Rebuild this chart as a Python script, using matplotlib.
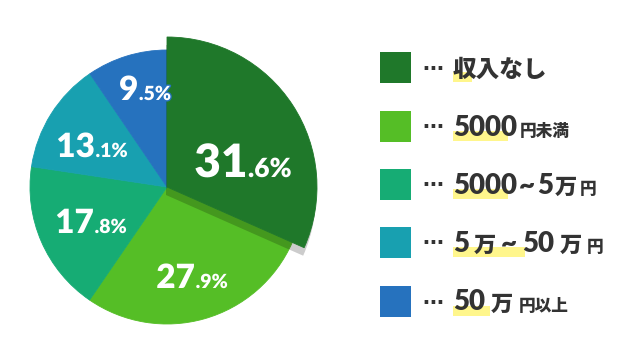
import re
import matplotlib
matplotlib.use('Agg')
import matplotlib.pyplot as plt
from matplotlib.patches import Wedge, Rectangle
import matplotlib.patheffects as pe

categories = ['収入なし', '5000円未満', '5000~5万円', '5万~50万円', '50万円以上']
values = [31.6, 27.9, 17.8, 13.1, 9.5]
colors = ['#1F782A', '#55BE26', '#16AC74', '#18A0B0', '#2672BE']

W, H = 640, 360
fig = plt.figure(figsize=(6.4, 3.6), dpi=100)
ax = fig.add_axes([0, 0, 1, 1])
ax.set_xlim(0, W)
ax.set_ylim(0, H)

cx, cy, R, R_big = 167, H - 187, 137, 150
wedges, _ = ax.pie(values, colors=colors, startangle=90, counterclock=False,
                   radius=R, center=(cx, cy), normalize=True,
                   wedgeprops=dict(linewidth=0.6))
for w in wedges:
    w.set_edgecolor(w.get_facecolor())
    w.set_zorder(1)
w0 = wedges[0]
w0.set_radius(R_big)
w0.set_zorder(2)
shadow = Wedge((cx - 1, cy - 8), R_big, w0.theta1, w0.theta2,
               facecolor='black', alpha=0.2, linewidth=0, zorder=1.5)
ax.add_patch(shadow)

ax.set_xlim(0, W)
ax.set_ylim(0, H)
ax.set_aspect('equal')
ax.axis('off')

renderer = fig.canvas.get_renderer()

NUM_FAM = ['Lato', 'Noto Sans CJK JP', 'DejaVu Sans']
CJK_FAM = ['Noto Sans CJK JP', 'DejaVu Sans']


def place(x, y, pieces, color, gap=1.0, center=False, effects=None, zorder=3):
    texts = []
    cur = x
    for s, size, fam, weight in pieces:
        t = ax.text(cur, y, s, fontsize=size, family=fam, fontweight=weight,
                    color=color, ha='left', va='baseline', zorder=zorder)
        if effects:
            t.set_path_effects(effects)
        bb = t.get_window_extent(renderer)
        cur = bb.x1 + gap
        texts.append(t)
    total = cur - gap - x
    if center:
        for t in texts:
            t.set_x(t.get_position()[0] - total / 2)
    return texts, total


# percentage labels: (center x, baseline y) in image px
label_pos = [(243, 177), (192, 288), (91, 233), (92, 157), (145, 100)]
big_sizes = [(33, 19), (24, 14), (24, 14), (24, 14), (24, 14)]
for v, (lx, ly), (s1, s2), c in zip(values, label_pos, big_sizes, colors):
    ip, fp = f'{v:.1f}'.split('.')
    pieces = [(ip, s1, NUM_FAM, 'heavy'), ('.' + fp + '%', s2, NUM_FAM, 'heavy')]
    place(lx, H - ly, pieces, 'white', gap=0.5, center=True,
          effects=[pe.Stroke(linewidth=2, foreground=c), pe.Normal()])


def tokenize(label):
    out = []
    i = 0
    while i < len(label):
        ch = label[i]
        if ch == '円':
            out.append((label[i:], 12, CJK_FAM, 'heavy'))
            break
        if ch.isdigit():
            j = i
            while j < len(label) and label[j].isdigit():
                j += 1
            out.append((label[i:j], 20, NUM_FAM, 'heavy'))
            i = j
        elif ch == '~':
            out.append(('~', 20, NUM_FAM, 'heavy'))
            i += 1
        elif ch == '万':
            out.append(('万', 16, CJK_FAM, 'heavy'))
            i += 1
        else:
            j = i
            while j < len(label) and not (label[j].isdigit() or label[j] in '~万円'):
                j += 1
            out.append((label[i:j], 17, CJK_FAM, 'heavy'))
            i = j
    return out


row_centers = [67, 126, 184, 242, 301]
hl_widths = [19, 55, 55, 72, 37]
row_gaps = [2, 3, 2, 5, 6]
for cat, c, rc, hw, g in zip(categories, colors, row_centers, hl_widths, row_gaps):
    yc = H - rc
    ax.add_patch(Rectangle((380, yc - 15.5), 31, 31, facecolor=c,
                           edgecolor='none', zorder=2))
    ax.text(433, yc - 2.5, '…', fontsize=15, family='DejaVu Sans',
            fontweight='bold', color='#333333', ha='center', va='baseline', zorder=3)
    ax.add_patch(Rectangle((453, yc - 15), hw, 10, facecolor='#FFF68C',
                           edgecolor='none', zorder=2))
    place(453, yc - 9.5, tokenize(cat), '#333333', gap=g)

fig.savefig('out.png', dpi=100)
